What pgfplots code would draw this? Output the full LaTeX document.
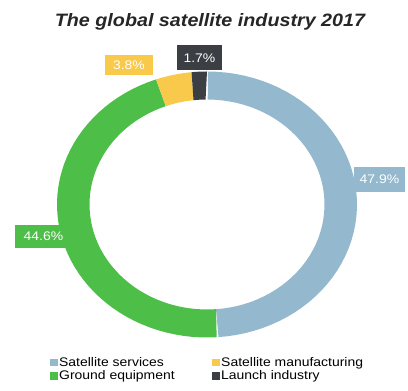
\documentclass[border=0pt]{standalone}
\usepackage{fontspec}
\setmainfont{Liberation Sans}
\usepackage{graphicx}
\usepackage{pgfplots}
\usepackage{pgfplotstable}
\pgfplotsset{compat=1.18}
\definecolor{cServ}{HTML}{94B8CE}
\definecolor{cGround}{HTML}{4DBE47}
\definecolor{cManu}{HTML}{F9C94C}
\definecolor{cLaunch}{HTML}{3B3E43}

\pgfplotstableread{
label value
Services 47.9
Ground 44.6
Manufacturing 3.8
Launch 1.7
}\industry

\newcommand\sx[1]{\scalebox{1.12}[1]{#1}}

\begin{document}
\begin{tikzpicture}
\pgfplotstablegetelem{0}{value}\of\industry \let\vA\pgfplotsretval
\pgfplotstablegetelem{1}{value}\of\industry \let\vB\pgfplotsretval
\pgfplotstablegetelem{2}{value}\of\industry \let\vC\pgfplotsretval
\pgfplotstablegetelem{3}{value}\of\industry \let\vD\pgfplotsretval
\pgfmathsetmacro\tot{\vA+\vB+\vC+\vD}
\pgfmathsetmacro\aA{\vA/\tot*360}
\pgfmathsetmacro\aB{\aA+\vB/\tot*360}
\pgfmathsetmacro\aC{\aB+\vC/\tot*360}
\def\cx{207}\def\cy{186.5}\def\Rx{150}\def\Ry{133}\def\rx{117.5}\def\ry{105}
\newcommand\seg[3]{\addplot[fill=#3, draw=none, samples at={0,1,...,101}]
 ({\cx+ifthenelse(x<=50,\Rx,\rx)*sin(ifthenelse(x<=50,#1+(#2-#1)*x/50,#2-(#2-#1)*(x-51)/50))},
  {\cy+ifthenelse(x<=50,\Ry,\ry)*cos(ifthenelse(x<=50,#1+(#2-#1)*x/50,#2-(#2-#1)*(x-51)/50))});}
\useasboundingbox (0,0) rectangle (408bp,391bp);
\begin{axis}[
  at={(0,0)}, anchor=south west,
  width=408bp, height=391bp, scale only axis,
  xmin=0, xmax=408, ymin=0, ymax=391,
  hide axis, clip=false,
  legend columns=2, transpose legend,
  legend image code/.code={\fill[#1] (0bp,-3.6bp) rectangle (7.5bp,3.6bp);},
  legend cell align=left,
  legend style={at={(axis cs:47,37.5)}, anchor=north west, draw=none, fill=none,
    font=\fontsize{12.5}{13}\selectfont, row sep=0bp,
    nodes={inner sep=1.5bp},
    /tikz/every even column/.append style={column sep=36bp}},
]
\seg{0.35}{\aA-0.35}{cServ}
\addlegendentry{\sx{Satellite services}}
\seg{\aA+0.35}{\aB-0.35}{cGround}
\addlegendentry{\sx{Ground equipment}}
\seg{\aB+0.35}{\aC-0.35}{cManu}
\addlegendentry{\sx{Satellite manufacturing}}
\seg{\aC+0.35}{359.3}{cLaunch}
\addlegendentry{\sx{Launch industry}}

\node[anchor=base, font=\fontsize{18}{20}\selectfont\bfseries\itshape, text=black!85]
  at (axis cs:210,364.5) {\scalebox{1.1}[1]{The global satellite industry 2017}};

\node[fill=cServ, text=white, minimum width=51bp, minimum height=25bp, inner sep=0pt,
  font=\fontsize{12.5}{12}\selectfont] at (axis cs:379.5,211.5) {\sx{47.9\%}};
\node[fill=cGround, text=white, minimum width=57bp, minimum height=23bp, inner sep=0pt,
  font=\fontsize{12.5}{12}\selectfont] at (axis cs:43.5,154.5) {\sx{44.6\%}};
\node[fill=cManu, text=white, minimum width=48bp, minimum height=20bp, inner sep=0pt,
  font=\fontsize{12.5}{12}\selectfont] at (axis cs:129,326) {\sx{3.8\%}};
\node[fill=cLaunch, text=white, minimum width=45bp, minimum height=25bp, inner sep=0pt,
  font=\fontsize{12.5}{12}\selectfont] at (axis cs:199.5,333) {\sx{1.7\%}};
\end{axis}
\end{tikzpicture}
\end{document}
